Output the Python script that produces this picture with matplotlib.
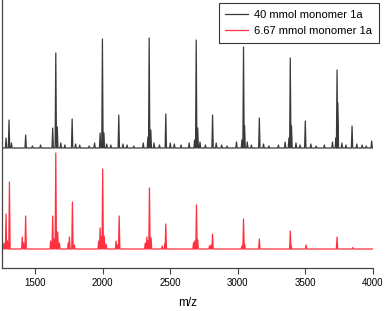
import numpy as np
import matplotlib
matplotlib.use('Agg')
import matplotlib.pyplot as plt

plt.rcParams['font.family'] = ['Liberation Sans', 'DejaVu Sans']

# peak list (m/z, height above baseline) for the 40 mmol spectrum
black_mz = [1285, 1307, 1325, 1430, 1480, 1540, 1630, 1653, 1664, 1690, 1720, 1774, 1800, 1830,
            1900, 1940, 1981, 1998, 2009, 2030, 2060, 2119, 2150, 2180, 2230, 2300, 2335, 2344,
            2356, 2380, 2420, 2467, 2500, 2530, 2580, 2640, 2680, 2692, 2703, 2720, 2760, 2813,
            2840, 2880, 2920, 2990, 3030, 3042, 3050, 3070, 3100, 3159, 3190, 3230, 3300, 3350,
            3378, 3388, 3397, 3430, 3460, 3499, 3540, 3580, 3640, 3700, 3725, 3734, 3740, 3770,
            3800, 3845, 3880, 3920, 3950, 3990]
black_h = [10, 28, 5, 13, 2, 3, 20, 95, 21, 5, 3, 29, 4, 3,
           2, 5, 15, 109, 15, 4, 3, 33, 4, 3, 2, 5, 11, 110,
           18, 5, 3, 34, 5, 4, 3, 5, 8, 108, 20, 6, 3, 33,
           5, 3, 2, 6, 8, 101, 22, 6, 3, 30, 4, 2, 3, 6,
           10, 90, 22, 5, 3, 27, 4, 2, 3, 6, 10, 78, 45, 5,
           3, 22, 4, 3, 2, 7]

# peak list for the 6.67 mmol spectrum
red_mz = [1270, 1285, 1295, 1310, 1405, 1415, 1430, 1615, 1630, 1640, 1653, 1667, 1680, 1745,
          1754, 1776, 1790, 1970, 1981, 1990, 2000, 2011, 2025, 2099, 2110, 2122, 2315, 2327,
          2335, 2346, 2358, 2440, 2460, 2467, 2672, 2680, 2694, 2703, 2790, 2800, 2813, 3030,
          3042, 3050, 3159, 3388, 3395, 3505, 3734, 3850]
red_h = [6, 35, 8, 67, 12, 6, 33, 8, 33, 10, 96, 17, 6, 6,
         12, 47, 4, 8, 21, 12, 80, 13, 5, 8, 4, 33, 6, 12,
         8, 61, 11, 3, 5, 25, 6, 8, 44, 9, 3, 4, 15, 3,
         30, 5, 10, 18, 3, 4, 12, 1.5]

black_base = 120
red_base = 19
xmin, xmax = 1255, 4000


def trace(mz, h, base):
    xs = [xmin]
    ys = [base]
    for m, v in zip(mz, h):
        xs += [m - 5, m, m + 5]
        ys += [base, base + v, base]
    xs.append(xmax)
    ys.append(base)
    return xs, ys


fig = plt.figure(figsize=(3.85, 3.11), dpi=100)
ax = fig.add_axes([2 / 385, 43 / 311, 371 / 385, 268 / 311])

bx, by = trace(black_mz, black_h, black_base)
rx, ry = trace(red_mz, red_h, red_base)
ax.plot(bx, by, color='#3a3a3a', lw=0.9, label='40 mmol monomer 1a')
ax.plot(rx, ry, color='#ff3040', lw=0.9, label='6.67 mmol monomer 1a')

ax.set_xlim(xmin, xmax)
ax.set_ylim(0, 268)
ax.set_yticks([])
ax.set_xticks([1500, 2000, 2500, 3000, 3500, 4000])
ax.tick_params(axis='x', direction='out', length=4, width=0.8, labelsize=7, color='#444444')
for s in ['top', 'right']:
    ax.spines[s].set_visible(False)
for s in ['left', 'bottom']:
    ax.spines[s].set_color('#444444')
    ax.spines[s].set_linewidth(0.9)

ax.set_xlabel('m/z', fontsize=8.5, labelpad=6)

leg = fig.legend(loc='upper right', bbox_to_anchor=(379 / 385, 1 - 3 / 311), fontsize=8,
                 frameon=True, fancybox=False, edgecolor='black', handlelength=2.0,
                 handletextpad=0.6, borderpad=0.6, labelspacing=0.6, borderaxespad=0)
leg.get_frame().set_linewidth(0.8)

fig.savefig('out.png', dpi=100)
